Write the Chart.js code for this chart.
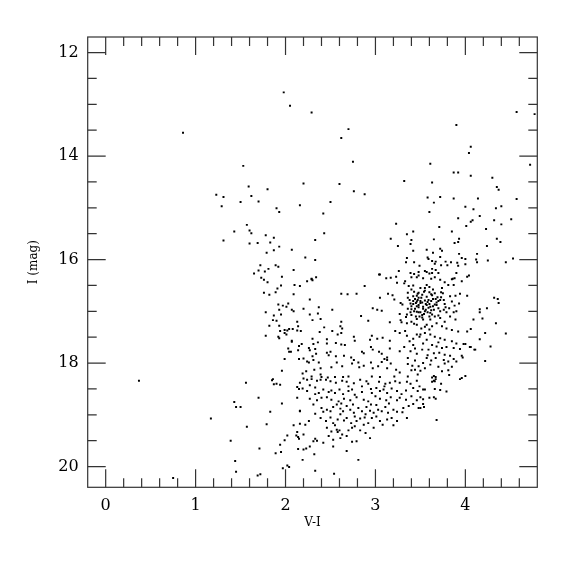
<!DOCTYPE html>
<html>
<head>
<meta charset="utf-8">
<title>V-I vs I</title>
<script src="https://cdn.jsdelivr.net/npm/chart.js@4.4.1/dist/chart.umd.min.js"></script>
<style>
  html, body { margin: 0; padding: 0; background: #fff; }
  #cmd { display: block; }
</style>
</head>
<body>
<canvas id="cmd" width="575" height="575"></canvas>
<script>
// [V-I, I] pairs
const brightStars = [
  [0.86,13.55],[1.98,12.77],[2.05,13.03],[2.29,13.16],[2.70,13.48],[2.62,13.65],[1.53,14.19],[2.75,14.11],
  [2.20,14.53],[2.60,14.54],[1.59,14.59],[1.80,14.64],[1.23,14.75],[1.31,14.79],[2.76,14.68],[2.88,14.74],
  [1.62,14.77],[1.29,14.97],[1.50,14.89],[1.70,14.88],[1.90,15.01],[1.93,15.08],[2.16,14.95],[2.50,14.89],
  [2.42,15.11],[4.57,13.15],[4.77,13.19],[3.90,13.40],[4.06,13.82],[4.04,13.94],[3.61,14.15],[4.72,14.17],
  [3.87,14.32],[3.92,14.32],[3.32,14.48],[3.63,14.51],[4.06,14.38],[4.30,14.42],[4.35,14.60],[4.37,14.65],
  [3.58,14.80],[3.72,14.79],[3.87,14.82],[3.65,14.90],[4.14,14.82],[4.57,14.83],[3.60,15.08],[4.00,14.98],
  [4.09,15.03],[4.40,14.97],[4.34,15.01],[4.16,15.16],[3.92,15.20],[4.08,15.24],[4.06,15.27],[4.32,15.24],
  [4.51,15.22]
];

const blueBranch = [
  [1.57,15.33],[1.43,15.46],[1.60,15.44],[1.62,15.49],[1.31,15.63],[1.60,15.69],[1.69,15.68],[1.78,15.53],
  [1.87,15.58],[1.83,15.67],[1.93,15.75],[1.79,15.87],[1.87,15.82],[2.07,15.81],[2.43,15.49],[2.33,15.62],
  [2.22,15.96],[2.33,16.01],[1.72,16.11],[1.89,16.11],[1.92,16.14],[1.65,16.27],[1.70,16.21],[1.77,16.23],
  [1.81,16.18],[2.09,16.20],[1.96,16.33],[1.73,16.35],[2.29,16.37],[2.34,16.34],[1.76,16.39],[1.80,16.44],
  [1.95,16.50],[1.91,16.56],[1.89,16.63],[1.76,16.64],[1.82,16.68],[2.10,16.49],[2.09,16.67],[1.92,16.87],
  [1.97,16.89],[2.01,16.91],[2.03,16.85],[1.93,16.97],[2.07,16.97],[2.09,17.00],[1.95,17.06],[1.78,17.02],
  [1.87,17.08],[1.86,17.17],[1.90,17.18],[1.82,17.28],[1.93,17.28],[2.13,17.20],[2.14,17.29],[1.94,17.38],
  [1.99,17.36],[2.02,17.37],[2.04,17.34],[2.08,17.34],[1.99,17.42],[2.01,17.45],[2.13,17.37],[1.78,17.47],
  [1.92,17.49],[1.93,17.52],[2.07,17.57],[2.07,17.59],[2.15,17.67],[2.03,17.72],[2.04,17.78],[2.06,17.78],
  [2.14,17.75],[1.99,17.92],[2.15,17.92],[1.96,18.15],[1.86,18.31],[2.29,16.38],[2.30,16.40],[2.24,16.42],
  [2.16,16.51],[2.27,16.77],[2.20,16.95],[2.27,17.06],[2.30,17.17],[2.36,17.04],[2.39,17.15],[2.37,16.92],
  [2.43,17.31],[2.38,17.40],[2.17,17.38],[2.18,17.63],[2.30,17.53],[2.31,17.63],[2.36,17.60],[2.46,17.54],
  [2.46,17.62],[2.26,17.71],[2.27,17.75],[2.33,17.73],[2.34,17.82],[2.30,17.87],[2.46,17.80],[2.48,17.85],
  [2.50,17.78],[2.20,17.91],[2.24,17.97],[2.26,17.99],[2.31,17.94],[2.37,17.99],[2.39,18.10],[2.32,18.13],
  [2.23,18.16],[2.19,18.20],[2.29,18.26],[2.40,18.27],[2.47,18.28],[2.39,18.22]
];

const redUpper = [
  [3.23,15.31],[3.71,15.37],[4.01,15.35],[4.40,15.32],[4.23,15.41],[3.35,15.51],[3.42,15.46],[3.85,15.46],
  [3.17,15.60],[3.40,15.62],[3.65,15.61],[3.93,15.60],[3.92,15.66],[3.88,15.68],[4.35,15.60],[4.39,15.66],
  [3.25,15.74],[3.39,15.70],[4.24,15.74],[3.42,15.83],[3.72,15.79],[3.74,15.83],[3.57,15.81],[3.64,15.87],
  [3.58,15.96],[3.59,15.99],[3.63,16.03],[3.35,15.97],[3.34,16.05],[3.43,16.05],[3.67,16.04],[3.72,15.95],
  [3.93,15.89],[3.96,15.97],[4.00,15.99],[3.91,16.06],[4.13,15.89],[4.12,16.00],[4.13,16.05],[4.25,16.02],
  [4.45,16.05],[4.53,15.98],[3.78,16.04],[3.84,16.05],[3.73,16.11],[3.80,16.11],[3.92,16.12],[4.00,16.09],
  [3.49,16.12],[3.66,16.08],[3.26,16.22],[3.05,16.29],[3.12,16.36],[3.17,16.35],[3.23,16.33],[3.39,16.26],
  [3.43,16.28],[3.48,16.24],[3.55,16.22],[3.57,16.24],[3.63,16.18],[3.63,16.26],[3.67,16.20],[3.70,16.26],
  [3.90,16.26],[3.88,16.36],[3.86,16.37],[4.02,16.33],[3.40,16.34],[3.53,16.36],[3.62,16.37],[3.66,16.34],
  [3.04,16.29],[3.24,16.45],[3.33,16.42],[3.32,16.46],[3.37,16.51],[3.42,16.50],[3.46,16.34],[3.48,16.31],
  [4.04,16.31],[3.60,16.27],[3.72,16.39],[3.77,16.44],[3.81,16.49],[3.85,16.38],[3.96,16.42],[3.87,16.49]
];

const redClump = [
  [2.88,16.51],[2.62,16.66],[2.69,16.67],[2.79,16.66],[3.05,16.74],[3.14,16.66],[3.19,16.69],[3.21,16.77],
  [3.28,16.84],[3.30,16.87],[3.36,16.64],[3.36,16.74],[3.42,16.71],[3.44,16.76],[3.46,16.81],[3.39,16.85],
  [3.42,16.86],[3.46,16.90],[3.48,16.88],[3.40,16.96],[3.43,17.00],[3.46,17.01],[3.48,17.02],[3.39,17.02],
  [3.35,17.06],[3.40,17.07],[3.45,17.10],[3.49,17.10],[3.47,16.66],[3.48,16.74],[3.57,16.49],[3.55,16.55],
  [3.60,16.53],[3.54,16.62],[3.60,16.63],[3.66,16.65],[3.63,16.69],[3.73,16.63],[3.69,16.73],[3.73,16.73],
  [3.76,16.78],[3.83,16.71],[3.89,16.70],[3.94,16.66],[4.02,16.70],[3.85,16.81],[3.88,16.89],[3.93,16.85],
  [3.90,17.00],[3.87,17.02],[3.82,16.94],[3.77,16.86],[3.72,16.78],[3.68,16.83],[3.64,16.76],[3.59,16.78],
  [3.51,16.74],[3.50,16.84],[3.53,16.91],[3.56,16.86],[3.61,16.91],[3.66,16.87],[3.70,16.94],[3.65,16.97],
  [3.61,17.03],[3.55,17.00],[3.52,17.07],[3.72,17.00],[3.76,16.97],[3.79,17.02],[3.47,16.78],[3.50,16.80],
  [3.52,16.83],[3.55,16.79],[3.57,16.88],[3.58,16.82],[3.60,16.86],[3.62,16.80],[3.64,16.90],[3.53,16.95],
  [3.56,16.97],[3.59,16.93],[3.62,16.98],[3.48,16.92],[3.45,16.84],[3.44,16.95],[3.50,17.02],[3.54,17.05],
  [3.58,17.02],[3.63,17.06],[3.68,16.88],[3.70,16.80],[3.67,16.76],[3.57,16.72],[3.52,16.68],[3.48,16.64],
  [3.62,16.67],[3.55,16.60],[3.50,16.55],[3.46,16.70],[3.42,16.80],[3.40,16.90],[3.38,16.78],[3.52,17.12],
  [3.60,17.10],[3.46,17.15],[3.43,16.62],[3.64,16.58],[4.32,16.74],[4.36,16.76],[4.37,16.84],[4.16,16.96],
  [4.16,17.02],[4.24,16.94],[3.75,16.65],[3.78,16.92],[3.40,16.58],[3.36,16.95],[3.70,17.08],[3.74,16.55]
];

const redMiddle = [
  [2.52,16.97],[2.84,17.09],[2.92,17.18],[2.97,16.94],[3.02,16.97],[3.07,16.99],[3.16,17.21],[3.27,17.05],
  [3.29,17.21],[3.28,17.17],[3.34,17.11],[3.35,17.23],[3.40,17.20],[3.43,17.24],[3.46,17.26],[2.62,17.20],
  [2.61,17.29],[2.63,17.33],[2.62,17.42],[2.58,17.45],[2.52,17.38],[2.56,17.61],[2.62,17.64],[2.66,17.65],
  [2.76,17.49],[2.77,17.57],[2.94,17.55],[2.96,17.47],[3.02,17.53],[3.08,17.51],[3.16,17.57],[3.22,17.38],
  [3.27,17.42],[3.33,17.38],[3.35,17.47],[3.42,17.53],[3.46,17.45],[3.49,17.49],[2.56,17.87],[2.65,17.86],
  [2.73,17.89],[2.76,17.94],[2.85,17.78],[2.87,17.81],[2.95,17.69],[2.97,17.74],[3.04,17.78],[3.07,17.82],
  [3.13,17.89],[3.13,17.94],[3.16,17.72],[3.27,17.77],[3.32,17.69],[3.39,17.77],[3.44,17.72],[3.46,17.82],
  [2.51,18.08],[2.57,17.99],[2.63,18.06],[2.74,18.01],[2.81,17.99],[2.82,18.08],[2.87,18.05],[2.95,17.99],
  [2.97,18.10],[3.03,18.06],[3.07,17.98],[3.10,17.92],[3.13,18.10],[3.17,18.01],[3.23,18.13],[3.27,18.18],
  [3.36,18.02],[3.40,18.14],[3.44,18.13],[3.48,18.06],[3.47,18.22],[3.36,18.26],[3.21,18.26],[3.05,18.27],
  [2.96,18.26],[2.70,18.26],[2.64,18.27],[2.55,18.27],[3.83,17.10],[3.89,17.16],[3.77,17.20],[3.72,17.13],
  [3.66,17.10],[3.61,17.16],[3.53,17.16],[3.57,17.26],[3.63,17.29],[3.68,17.23],[3.74,17.29],[3.79,17.33],
  [3.85,17.36],[3.92,17.39],[3.51,17.33],[3.50,17.45],[3.55,17.42],[3.61,17.45],[3.66,17.49],[3.72,17.52],
  [3.77,17.55],[3.85,17.58],[3.90,17.62],[3.98,17.63],[3.57,17.55],[3.53,17.62],[3.63,17.65],[3.68,17.68],
  [3.74,17.71],[3.79,17.69],[3.87,17.71],[3.94,17.73],[4.05,17.69],[4.11,17.74],[3.52,17.74],[3.59,17.74],
  [3.65,17.81],[3.71,17.80],[3.77,17.84],[3.83,17.86],[3.96,17.86],[3.57,17.90],[3.67,17.90],[3.76,17.94],
  [3.81,17.97],[3.87,17.92],[3.90,17.97],[3.53,18.00],[3.61,18.03],[3.70,18.07],[3.77,18.01],[3.85,18.07],
  [3.74,18.16],[3.81,18.14],[3.65,18.25],[3.67,18.27],[3.63,18.28],[3.96,18.29],[4.00,18.25],[3.82,18.23],
  [4.19,17.14],[4.09,17.16],[4.34,17.23],[4.45,17.43],[4.06,17.34],[4.02,17.39],[4.22,17.42],[4.16,17.54],
  [4.00,17.63],[4.28,17.68],[4.06,17.69],[4.10,17.74],[4.22,17.96],[3.97,17.89],
  [3.38,17.58],[3.42,17.65],[3.36,17.90],[3.44,17.95],[3.41,18.05],[3.50,18.15],[3.55,18.10],[3.58,17.85],
  [3.62,17.95],[3.70,17.60],[3.60,17.35],[3.55,17.30]
];

const lowerBranch = [
  [0.37,18.34],[0.75,20.22],[1.56,18.38],[1.85,18.33],[1.87,18.41],[1.90,18.40],[1.94,18.42],[2.13,18.46],
  [2.15,18.50],[1.43,18.75],[1.45,18.85],[1.50,18.85],[1.70,18.67],[1.96,18.78],[2.13,18.67],[1.83,18.94],
  [2.16,18.92],[1.17,19.07],[1.57,19.23],[1.79,19.18],[2.09,19.20],[2.16,19.17],[2.13,19.33],[2.12,19.40],
  [2.14,19.43],[2.15,19.46],[2.02,19.40],[1.99,19.49],[1.94,19.58],[1.39,19.50],[1.71,19.65],[1.89,19.74],
  [1.95,19.72],[2.14,19.66],[1.44,19.89],[1.45,20.10],[1.69,20.17],[1.72,20.15],[1.97,20.03],[2.02,19.98],
  [2.04,20.01],
  [2.20,18.30],[2.24,18.32],[2.29,18.31],[2.35,18.34],[2.39,18.32],[2.45,18.32],[2.50,18.35],[2.56,18.38],
  [2.63,18.34],[2.68,18.36],[2.76,18.39],[2.83,18.32],[2.90,18.35],[2.92,18.40],[3.04,18.36],[3.11,18.40],
  [3.16,18.38],[3.22,18.35],[3.27,18.38],[3.35,18.36],[3.39,18.40],[3.46,18.34],[3.49,18.45],[2.16,18.38],
  [2.27,18.43],[2.33,18.47],[2.19,18.49],[2.24,18.54],[2.33,18.60],[2.37,18.58],[2.42,18.51],[2.48,18.56],
  [2.51,18.53],[2.55,18.58],[2.60,18.51],[2.64,18.60],[2.70,18.54],[2.74,18.51],[2.77,18.61],[2.85,18.56],
  [2.96,18.58],[3.01,18.48],[3.05,18.54],[3.09,18.51],[3.13,18.58],[3.18,18.49],[3.24,18.54],[3.29,18.60],
  [3.34,18.53],[3.42,18.48],[3.47,18.54],[2.27,18.69],[2.35,18.72],[2.40,18.67],[2.46,18.66],[2.51,18.71],
  [2.59,18.74],[2.65,18.69],[2.72,18.72],[2.79,18.66],[2.87,18.71],[2.92,18.74],[3.00,18.64],[3.05,18.69],
  [3.12,18.72],[3.17,18.66],[3.24,18.72],[3.27,18.67],[3.34,18.71],[3.40,18.64],[3.46,18.72],[2.40,18.87],
  [2.42,18.94],[2.46,18.90],[2.50,18.93],[2.53,18.85],[2.57,18.80],[2.61,18.88],[2.64,18.93],[2.68,18.83],
  [2.72,18.90],[2.76,18.96],[2.81,18.87],[2.85,18.93],[2.89,18.99],[2.90,18.85],[2.94,18.92],[2.98,18.96],
  [3.01,18.81],[3.03,18.90],[3.07,18.93],[3.11,18.85],[3.14,18.96],[3.20,18.90],[3.24,18.94],[3.31,18.87],
  [3.37,18.83],[3.42,18.79],[3.48,18.87],[2.39,19.06],[2.45,19.12],[2.50,19.05],[2.53,19.16],[2.58,19.09],
  [2.61,18.99],[2.65,19.11],[2.68,19.06],[2.73,19.16],[2.77,19.03],[2.79,19.12],[2.83,19.07],[2.87,19.19],
  [2.92,19.16],[2.96,19.06],[3.01,19.03],[3.05,19.12],[3.08,19.19],[3.13,19.09],[3.18,19.06],[3.24,19.12],
  [3.35,19.06],[2.22,19.19],[2.26,19.12],[2.33,18.98],[2.16,18.93],[2.31,18.80],[2.46,19.25],[2.51,19.32],
  [2.57,19.29],[2.58,19.33],[2.60,19.30],[2.63,19.38],[2.68,19.41],[2.74,19.25],[2.77,19.22],[2.83,19.30],
  [2.89,19.35],[2.94,19.45],[2.48,19.41],[2.53,19.48],[2.61,19.45],[2.33,19.46],[2.35,19.50],[2.31,19.51],
  [2.20,19.38],[2.27,19.61],[2.20,19.67],[2.23,19.65],[2.42,19.54],[2.53,19.61],[2.68,19.70],[2.79,19.51],
  [2.74,19.52],[2.19,19.87],[2.33,20.08],[2.81,19.87],[2.54,20.14],[2.32,19.76],
  [2.85,18.45],[2.95,18.50],[3.10,18.45],[2.70,18.45],[2.62,18.78],[2.75,18.80],[2.95,18.80],[3.15,18.78],
  [2.88,19.05],[2.98,19.25],[2.70,19.30],[2.55,19.20],[3.20,19.20],[3.30,18.95],
  [3.63,18.36],[3.65,18.34],[3.67,18.31],[3.66,18.35],[3.73,18.40],[3.94,18.31],[3.53,18.51],[3.55,18.51],
  [3.66,18.50],[3.72,18.52],[3.79,18.55],[3.50,18.66],[3.53,18.70],[3.60,18.67],[3.65,18.66],[3.67,18.69],
  [3.53,18.79],[3.54,18.85],[3.50,18.87],[3.68,19.10]
];

const allStars = [].concat(brightStars, blueBranch, redUpper, redClump, redMiddle, lowerBranch);

// axis ticks
const xTicks = [0, 1, 2, 3, 4];
const xMinorTicks = [0.2, 0.4, 0.6, 0.8, 1.2, 1.4, 1.6, 1.8, 2.2, 2.4, 2.6, 2.8, 3.2, 3.4, 3.6, 3.8, 4.2, 4.4, 4.6];
const yTicks = [12, 14, 16, 18, 20];
const yMinorTicks = [12.5, 13, 13.5, 14.5, 15, 15.5, 16.5, 17, 17.5, 18.5, 19, 19.5];

const labelFont = { family: 'DejaVu Serif', size: 16 };
const titleFont = { family: 'DejaVu Serif', size: 12 };

// inward ticks on all four sides plus the box
const frameTicks = {
  id: 'frameTicks',
  afterDraw(chart) {
    const { ctx, chartArea: a, scales: { x, y } } = chart;
    const major = 18, minor = 9;
    ctx.save();
    ctx.strokeStyle = '#333';
    ctx.lineWidth = 1.2;
    ctx.strokeRect(a.left, a.top, a.right - a.left, a.bottom - a.top);
    ctx.beginPath();
    const xMark = (v, len) => {
      const px = x.getPixelForValue(v);
      ctx.moveTo(px, a.bottom); ctx.lineTo(px, a.bottom - len);
      ctx.moveTo(px, a.top); ctx.lineTo(px, a.top + len);
    };
    const yMark = (v, len) => {
      const py = y.getPixelForValue(v);
      ctx.moveTo(a.left, py); ctx.lineTo(a.left + len, py);
      ctx.moveTo(a.right, py); ctx.lineTo(a.right - len, py);
    };
    xTicks.forEach(v => xMark(v, major));
    xMinorTicks.forEach(v => xMark(v, minor));
    yTicks.forEach(v => yMark(v, major));
    yMinorTicks.forEach(v => yMark(v, minor));
    ctx.stroke();
    ctx.restore();
  }
};

new Chart(document.getElementById('cmd').getContext('2d'), {
  type: 'scatter',
  data: {
    datasets: [{
      data: allStars.map(([vi, mag]) => ({ x: vi, y: mag })),
      pointStyle: 'rect',
      pointRadius: 1.4,
      pointHoverRadius: 1.4,
      backgroundColor: '#000',
      borderWidth: 0
    }]
  },
  options: {
    responsive: false,
    animation: false,
    devicePixelRatio: 1,
    layout: { padding: { left: 0, right: 37.7, top: 37, bottom: 0 } },
    plugins: {
      legend: { display: false },
      tooltip: { enabled: false }
    },
    scales: {
      x: {
        type: 'linear',
        min: -0.2,
        max: 4.8,
        afterBuildTicks: s => { s.ticks = xTicks.map(v => ({ value: v })); },
        afterFit: s => { s.height = 87.7; },
        grid: { display: false, drawTicks: false },
        border: { display: false },
        ticks: { font: labelFont, color: '#000', padding: 9, maxRotation: 0 },
        title: { display: true, text: 'V-I', font: titleFont, color: '#000', padding: { top: 0, bottom: 45 } }
      },
      y: {
        type: 'linear',
        reverse: true,
        min: 11.7,
        max: 20.4,
        afterBuildTicks: s => { s.ticks = yTicks.map(v => ({ value: v })); },
        afterFit: s => { s.width = 87.7; },
        grid: { display: false, drawTicks: false },
        border: { display: false },
        ticks: { font: labelFont, color: '#000', padding: 9 },
        title: { display: true, text: 'I (mag)', font: titleFont, color: '#000', padding: { top: 27, bottom: 0 } }
      }
    }
  },
  plugins: [frameTicks]
});
</script>
</body>
</html>
